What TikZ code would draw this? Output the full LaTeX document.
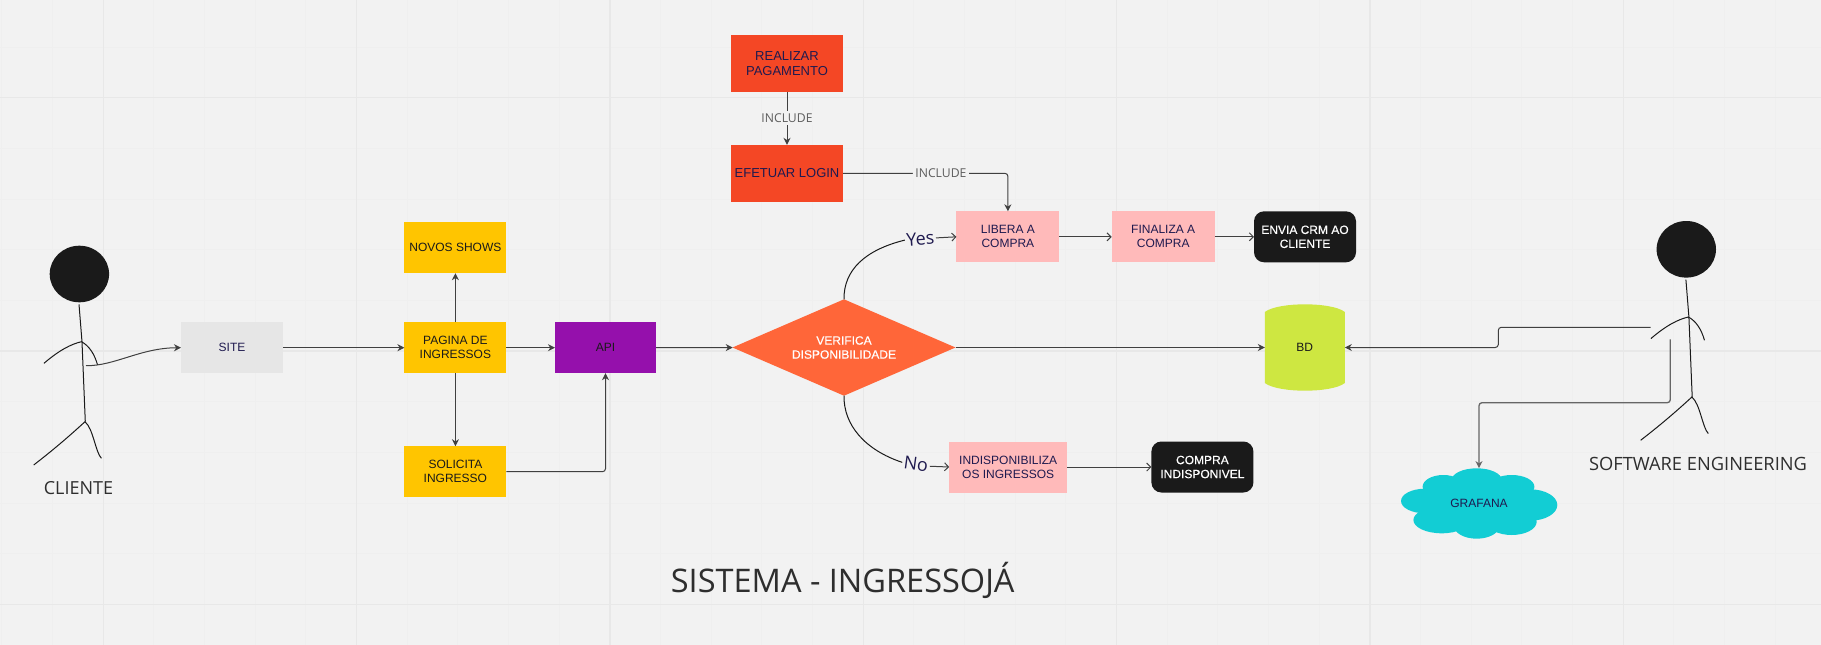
\documentclass[tikz,border=0pt]{standalone}
\usepackage{fontspec}
\setmainfont{Liberation Sans}
\newfontfamily\opensans{Open Sans}
\newfontfamily\cheia[FakeBold=0.35]{Liberation Sans}
\usetikzlibrary{shapes.geometric,arrows.meta}

\definecolor{fundo}{HTML}{F2F2F2}
\definecolor{gradeA}{HTML}{EFEFEF}
\definecolor{gradeB}{HTML}{E8E8E8}
\definecolor{linha}{HTML}{404040}
\definecolor{tinta}{HTML}{1A1A1A}
\definecolor{legenda}{HTML}{2E2E2E}
\definecolor{azulnoite}{HTML}{1F1A4F}
\definecolor{cinzasite}{HTML}{E6E6E6}
\definecolor{amarelo}{HTML}{FFC500}
\definecolor{roxo}{HTML}{9510AC}
\definecolor{vermelho}{HTML}{F44725}
\definecolor{rosa}{HTML}{FFBABA}
\definecolor{laranja}{HTML}{FF6639}
\definecolor{lima}{HTML}{CEE741}
\definecolor{ciano}{HTML}{12CDD4}

\tikzset{
    caixa/.style={minimum width=#1, minimum height=51pt, inner sep=0pt, outer sep=0pt, align=center,
        text=azulnoite, font=\fontsize{12}{14}\selectfont},
    amarela/.style={caixa=102pt, fill=amarelo, text=tinta},
    rosada/.style={caixa=#1, fill=rosa},
    preta/.style={caixa=#1, fill=tinta, text=white, rounded corners=10pt,
        font=\cheia\fontsize{12}{14}\selectfont},
    vermelha/.style={caixa=112pt, minimum height=57pt, fill=vermelho,
        font=\fontsize{13}{15}\selectfont},
    rotulo/.style={font=\opensans\fontsize{#1}{#1}\selectfont, text=legenda, inner sep=1.5pt},
    inclui/.style={font=\opensans\fontsize{12.2}{13}\selectfont, text=linha!85, fill=fundo, inner sep=2.5pt},
    decisao/.style={font=\opensans\fontsize{18}{18}\selectfont, text=azulnoite, inner sep=1.5pt},
    seta/.style={draw=linha, line width=1pt, -{Stealth[length=7pt,width=7pt]}},
    setaaberta/.style={draw=linha, line width=1pt, -{Straight Barb[length=4pt,width=8pt]}},
    boneco/.pic={
        \fill[tinta] (0,0) ellipse [x radius=29.7pt, y radius=28.3pt];
        \draw[tinta, line width=1pt] (-0.4,30.3) -- (2.6,67.7) -- (5.9,147.7);
        \draw[tinta, line width=1pt] (-35.4,89.3) .. controls (-20,76) and (-8,70) .. (2.1,67.7)
            .. controls (10,72) and (15,80) .. (18.2,91);
        \draw[tinta, line width=1pt] (-45.7,191) .. controls (-25,175) and (-10,162) .. (5.6,147.7)
            .. controls (14,155) and (16,178) .. (22,184.3);
    }
}

\begin{document}
\begin{tikzpicture}[x=1pt, y=-1pt]
    \useasboundingbox (0,0) rectangle (1821,645);
    \fill[fundo] (0,0) rectangle (1821,645);

    % grade
    \foreach \k in {0,...,35}
        \draw[gradeA, line width=1pt] ({1.8+50.67*\k},0) -- ++(0,645);
    \foreach \k in {0,...,12}
        \draw[gradeA, line width=1pt] (0,{47+50.67*\k}) -- ++(1821,0);
    \foreach \k in {0,...,6}
        \draw[gradeB, line width=1.4pt] ({103.2+253.35*\k},0) -- ++(0,645);
    \foreach \k in {0,...,2}
        \draw[gradeB, line width=1.4pt] (0,{97.7+253.35*\k}) -- ++(1821,0);

    % caixas
    \node[caixa=102pt, fill=cinzasite] (site) at (232,347.7) {SITE};
    \node[amarela] (novos) at (455.4,247.7) {NOVOS SHOWS};
    \node[amarela] (pagina) at (455.4,347.7) {PAGINA DE\\INGRESSOS};
    \node[amarela] (solicita) at (455.4,471.7) {SOLICITA\\INGRESSO};
    \node[caixa=101pt, fill=roxo, text=tinta] (api) at (605.5,347.7) {API};

    \node[vermelha] (realizar) at (787,63.3) {REALIZAR\\PAGAMENTO};
    \node[vermelha] (login) at (787,173.3) {EFETUAR LOGIN};

    \node[rosada=103pt] (libera) at (1007.9,236.8) {LIBERA A\\COMPRA};
    \node[rosada=103pt] (finaliza) at (1163.2,236.8) {FINALIZA A\\COMPRA};
    \node[preta=102pt] (envia) at (1305,236.8) {ENVIA CRM AO\\CLIENTE};
    \node[rosada=118pt] (indisp) at (1008.2,467) {INDISPONIBILIZA\\OS INGRESSOS};
    \node[preta=102pt] (compra) at (1202.4,467) {COMPRA\\INDISPONIVEL};

    \node[diamond, fill=laranja, text=white, minimum width=223pt, minimum height=96.4pt, inner sep=0pt,
        outer sep=0pt, aspect=2.3, align=center, font=\cheia\fontsize{12}{14}\selectfont]
        (verifica) at (844,347.5) {VERIFICA\\DISPONIBILIDADE};

    % bd
    \fill[lima] (1264.8,312) .. controls (1272,306.5) and (1290,304.3) .. (1304.8,304.3)
        .. controls (1320,304.3) and (1338,306.5) .. (1344.8,312) -- (1344.8,383)
        .. controls (1338,388.5) and (1320,390.7) .. (1304.8,390.7)
        .. controls (1290,390.7) and (1272,388.5) .. (1264.8,383) -- cycle;
    \node[minimum width=80pt, minimum height=86.4pt, inner sep=0pt, outer sep=0pt, text=tinta,
        font=\fontsize{12}{14}\selectfont] (bd) at (1304.8,347.5) {BD};

    % nuvem
    \foreach \cx/\cy/\rx/\ry in {1476.7/480/25/11.7, 1443.3/486.7/20.7/11.7, 1511.7/486.7/22.7/11.7,
        1425/501/24/12.3, 1530/505/27.3/15.7, 1441.7/520/28.3/13.3, 1476.7/525/23.3/13.7,
        1511.7/521.7/25/13.3, 1478.3/503.3/56.7/20}
        \fill[ciano] (\cx,\cy) ellipse [x radius=\rx pt, y radius=\ry pt];
    \node[minimum width=156pt, minimum height=70.4pt, inner sep=0pt, outer sep=0pt, text=azulnoite,
        font=\fontsize{12}{14}\selectfont] (grafana) at (1479,503.3) {GRAFANA};

    % bonecos
    \pic at (79.4,274) {boneco};
    \pic at (1686.3,249.3) {boneco};
    \coordinate (maocliente) at (86,365.7);
    \coordinate (maoeng) at (1650.7,327.3);
    \coordinate (quadrileng) at (1670.3,339.3);

    % textos
    \node[rotulo=18] (cliente) at (78.5,488) {CLIENTE};
    \node[rotulo=18.3] (eng) at (1698,464.3) {SOFTWARE ENGINEERING};
    \node[rotulo=32.5] (titulo) at (842.7,580) {SISTEMA - INGRESSOJÁ};
    \node[decisao, rotate=4] (yes) at (920.4,239) {Yes};
    \node[decisao, rotate=-8] (no) at (916,464.3) {No};

    % conectores
    \draw[seta] (maocliente) .. controls (115,366) and (140,348) .. (site.west);
    \draw[seta] (site) -- (pagina);
    \draw[seta] (pagina) -- (novos);
    \draw[seta] (pagina) -- (solicita);
    \draw[seta] (pagina) -- (api);
    \draw[seta, rounded corners=3pt] (solicita.east) -| (api.south);
    \draw[seta] (api) -- (verifica);
    \draw[seta] (verifica.east) -- (bd.west);

    \draw[seta] (realizar) -- node[inclui] (inc1) {INCLUDE} (login);
    \draw[seta, rounded corners=3pt] (login.east) -| node[inclui, pos=0.297] (inc2) {INCLUDE} (libera.north);

    \draw[tinta, line width=1pt] (verifica.north) .. controls (843.6,270) and (865,250) .. (yes.west);
    \draw[setaaberta] (yes.east) -- (libera.west);
    \draw[tinta, line width=1pt] (verifica.south) .. controls (843.5,425) and (865,450) .. (no.west);
    \draw[setaaberta] (no.east) -- (indisp.west);
    \draw[setaaberta] (libera) -- (finaliza);
    \draw[setaaberta] (finaliza) -- (envia);
    \draw[setaaberta] (indisp) -- (compra);

    \draw[seta, rounded corners=3pt] (maoeng) -- ++(-152.4,0) |- (bd.east);
    \draw[seta, line width=1.3pt, draw=linha!80, rounded corners=3pt] (quadrileng) -- ++(0,63.4) -| (grafana.north);
\end{tikzpicture}
\end{document}
